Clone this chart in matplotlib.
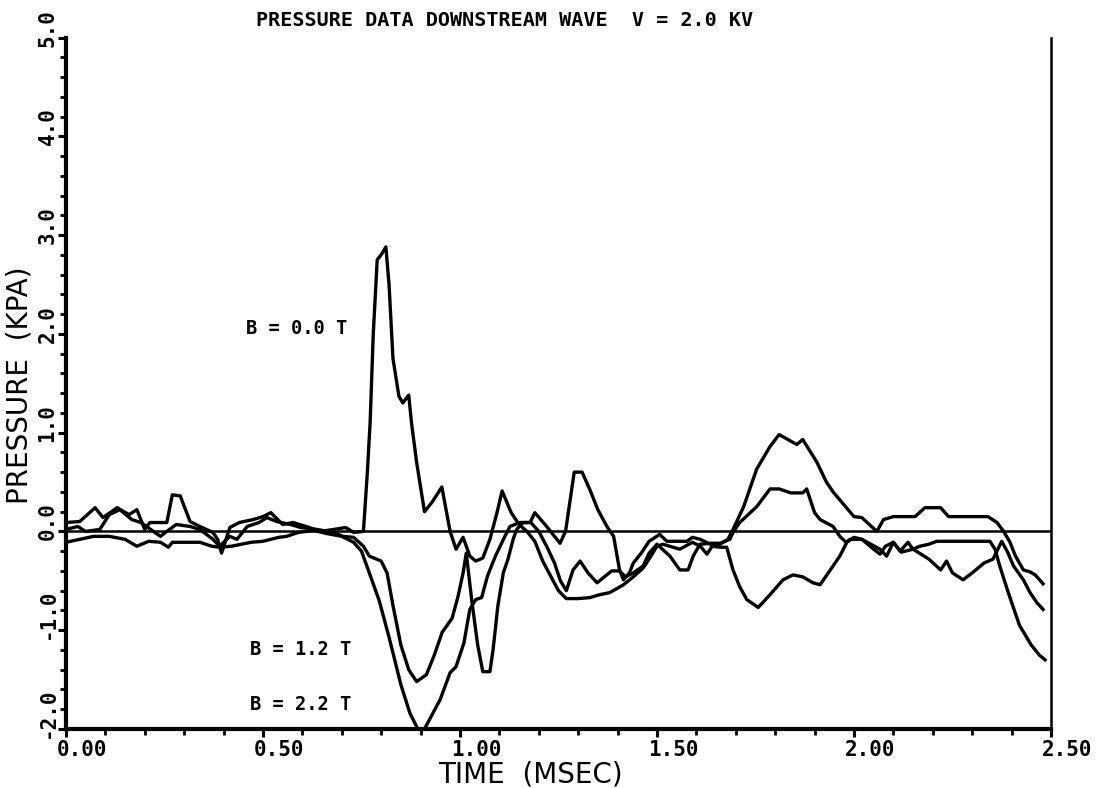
import matplotlib
matplotlib.use("Agg")
import matplotlib.pyplot as plt
from matplotlib.transforms import ScaledTranslation

# traces (time in msec, pressure in kPa)
t_b00 = [0.00, 0.035, 0.074, 0.094, 0.13, 0.16, 0.18, 0.20, 0.213, 0.256, 0.27, 0.29, 0.315, 0.34,
         0.373, 0.385, 0.395, 0.416, 0.44, 0.475, 0.50, 0.52, 0.55, 0.576, 0.61, 0.645, 0.68, 0.71,
         0.73, 0.755, 0.765, 0.772, 0.78, 0.79, 0.80, 0.812, 0.82, 0.83, 0.845, 0.855, 0.87, 0.877,
         0.89, 0.91, 0.93, 0.954, 0.975, 0.99, 1.008, 1.025, 1.04, 1.058, 1.076, 1.094, 1.107, 1.13,
         1.15, 1.17, 1.19, 1.21, 1.23, 1.25, 1.27, 1.30, 1.33, 1.355, 1.38, 1.415, 1.44, 1.465, 1.48,
         1.50, 1.515, 1.558, 1.59, 1.61, 1.627, 1.64, 1.66, 1.677, 1.693, 1.71, 1.728, 1.757, 1.787,
         1.82, 1.845, 1.87, 1.896, 1.914, 1.94, 1.964, 1.982, 2.00, 2.02, 2.05, 2.066, 2.08, 2.10,
         2.12, 2.15, 2.19, 2.22, 2.235, 2.25, 2.277, 2.30, 2.33, 2.353, 2.375, 2.39, 2.405, 2.43,
         2.447, 2.464, 2.48]
p_b00 = [0.09, 0.10, 0.24, 0.14, 0.24, 0.17, 0.22, 0.02, 0.09, 0.09, 0.37, 0.36, 0.10, 0.05,
         -0.01, -0.08, -0.22, 0.04, 0.09, 0.12, 0.15, 0.19, 0.07, 0.09, 0.05, 0.00, 0.02, 0.04,
         -0.01, 0.00, 0.60, 1.10, 2.00, 2.75, 2.80, 2.88, 2.50, 1.75, 1.37, 1.30, 1.38, 1.10,
         0.70, 0.20, 0.30, 0.45, 0.00, -0.18, -0.06, -0.25, -0.30, -0.27, -0.08, 0.19, 0.41, 0.19,
         0.07, 0.00, -0.10, -0.30, -0.45, -0.60, -0.68, -0.68, -0.67, -0.64, -0.62, -0.54, -0.46,
         -0.37, -0.28, -0.15, -0.13, -0.18, -0.11, -0.15, -0.23, -0.15, -0.16, -0.16, -0.39, -0.56,
         -0.69, -0.77, -0.64, -0.49, -0.44, -0.46, -0.52, -0.54, -0.39, -0.25, -0.11, -0.06, -0.08,
         -0.18, -0.23, -0.15, -0.11, -0.21, -0.18, -0.28, -0.39, -0.30, -0.42, -0.49, -0.42, -0.32,
         -0.28, -0.10, -0.21, -0.35, -0.49, -0.62, -0.72, -0.79]

t_b12 = [0.00, 0.03, 0.05, 0.086, 0.11, 0.137, 0.167, 0.19, 0.24, 0.256, 0.28, 0.315, 0.34, 0.373,
         0.39, 0.416, 0.434, 0.46, 0.49, 0.51, 0.535, 0.57, 0.595, 0.637, 0.68, 0.703, 0.73, 0.755,
         0.77, 0.80, 0.815, 0.83, 0.85, 0.87, 0.89, 0.915, 0.935, 0.955, 0.98, 0.995, 1.008, 1.016,
         1.03, 1.045, 1.058, 1.076, 1.084, 1.096, 1.11, 1.122, 1.135, 1.144, 1.16, 1.18, 1.20, 1.22,
         1.24, 1.255, 1.27, 1.287, 1.305, 1.325, 1.348, 1.385, 1.405, 1.42, 1.44, 1.465, 1.48, 1.50,
         1.533, 1.558, 1.579, 1.592, 1.609, 1.635, 1.66, 1.685, 1.693, 1.71, 1.753, 1.787, 1.81,
         1.84, 1.87, 1.88, 1.90, 1.914, 1.947, 1.964, 1.98, 1.99, 2.02, 2.066, 2.083, 2.10, 2.117,
         2.137, 2.15, 2.167, 2.19, 2.21, 2.345, 2.358, 2.37, 2.39, 2.42, 2.45, 2.47, 2.485]
p_b12 = [0.02, 0.05, 0.00, 0.02, 0.17, 0.22, 0.12, 0.09, -0.05, 0.00, 0.07, 0.05, 0.02, -0.08,
         -0.15, -0.05, -0.08, 0.05, 0.09, 0.14, 0.10, 0.07, 0.04, 0.02, -0.01, -0.05, -0.06, -0.15,
         -0.25, -0.30, -0.42, -0.75, -1.15, -1.40, -1.52, -1.45, -1.25, -1.02, -0.88, -0.66, -0.42,
         -0.22, -0.70, -1.15, -1.42, -1.42, -1.20, -0.76, -0.42, -0.28, -0.08, 0.02, 0.09, 0.09,
         0.00, -0.15, -0.32, -0.50, -0.60, -0.39, -0.30, -0.42, -0.52, -0.40, -0.40, -0.46, -0.42,
         -0.35, -0.22, -0.13, -0.25, -0.39, -0.39, -0.25, -0.13, -0.12, -0.12, -0.08, -0.01, 0.09,
         0.25, 0.43, 0.43, 0.39, 0.39, 0.43, 0.19, 0.12, 0.05, -0.05, -0.11, -0.08, -0.08, -0.18,
         -0.25, -0.11, -0.20, -0.11, -0.18, -0.15, -0.13, -0.10, -0.10, -0.18, -0.35, -0.60, -0.95,
         -1.15, -1.25, -1.30]

t_b22 = [0.00, 0.07, 0.11, 0.15, 0.18, 0.21, 0.24, 0.26, 0.27, 0.34, 0.37, 0.39, 0.42, 0.47, 0.50,
         0.54, 0.56, 0.59, 0.63, 0.66, 0.70, 0.73, 0.75, 0.77, 0.795, 0.82, 0.85, 0.873, 0.893, 0.91,
         0.93, 0.95, 0.975, 0.99, 1.01, 1.025, 1.04, 1.055, 1.07, 1.09, 1.114, 1.127, 1.152, 1.178,
         1.19, 1.22, 1.254, 1.268, 1.29, 1.31, 1.33, 1.35, 1.373, 1.39, 1.405, 1.415, 1.43, 1.44,
         1.46, 1.48, 1.507, 1.525, 1.576, 1.59, 1.61, 1.635, 1.66, 1.68, 1.693, 1.72, 1.753, 1.787,
         1.81, 1.855, 1.87, 1.906, 1.93, 1.947, 2.00, 2.02, 2.058, 2.075, 2.10, 2.155, 2.18, 2.22,
         2.24, 2.34, 2.363, 2.38, 2.396, 2.41, 2.43, 2.447, 2.46, 2.48]
p_b22 = [-0.11, -0.05, -0.05, -0.08, -0.15, -0.10, -0.11, -0.16, -0.11, -0.11, -0.15, -0.16, -0.15,
         -0.11, -0.10, -0.06, -0.05, -0.01, 0.01, -0.02, -0.05, -0.11, -0.20, -0.42, -0.70, -1.07,
         -1.55, -1.84, -2.00, -2.00, -1.85, -1.70, -1.43, -1.37, -1.13, -0.79, -0.69, -0.67, -0.45,
         -0.25, -0.05, 0.05, 0.09, 0.09, 0.19, 0.05, -0.12, 0.00, 0.60, 0.60, 0.42, 0.22, 0.05,
         -0.05, -0.39, -0.49, -0.42, -0.32, -0.22, -0.10, -0.03, -0.10, -0.10, -0.06, -0.08, -0.13,
         -0.13, -0.08, 0.02, 0.25, 0.63, 0.86, 0.98, 0.88, 0.93, 0.70, 0.50, 0.40, 0.15, 0.14, 0.00,
         0.12, 0.15, 0.15, 0.24, 0.24, 0.15, 0.15, 0.09, 0.00, -0.11, -0.25, -0.39, -0.41, -0.44,
         -0.53]

x_ticks = [0.0, 0.5, 1.0, 1.5, 2.0, 2.5]
x_labels = ["0.00", "0.50", "1.00", "1.50", "2.00", "2.50"]
y_ticks = [-2, -1, 0, 1, 2, 3, 4, 5]
y_labels = ["-2.0", "-1.0", "0.0", "1.0", "2.0", "3.0", "4.0", "5.0"]

fig = plt.figure(figsize=(10.99, 7.88), dpi=100)
ax = fig.add_axes([0.0600, 0.0749, 0.8963, 0.8775])

lw = 2.4
ax.plot(t_b00, p_b00, color="black", lw=lw, solid_joinstyle="round")
ax.plot(t_b12, p_b12, color="black", lw=lw, solid_joinstyle="round")
ax.plot(t_b22, p_b22, color="black", lw=lw, solid_joinstyle="round")
ax.axhline(0, color="black", lw=1.8)

ax.set_xlim(0, 2.5)
ax.set_ylim(-2, 5)

ax.spines["top"].set_visible(False)
ax.spines["left"].set_linewidth(3.0)
ax.spines["bottom"].set_linewidth(3.0)
ax.spines["right"].set_linewidth(1.8)

ax.set_xticks(x_ticks)
ax.set_xticks([i / 10 for i in range(26)], minor=True)
ax.set_yticks(y_ticks)
ax.set_yticks([-2 + i * 0.2 for i in range(36)], minor=True)
ax.tick_params(which="major", direction="out", length=6, width=2.2)
ax.tick_params(which="minor", direction="out", length=4, width=2.0)
ax.tick_params(axis="x", which="major", pad=2)
ax.tick_params(axis="y", which="major", pad=0)

tick_font = dict(family="DejaVu Sans Mono", weight="bold", size=15)
ax.set_xticklabels(x_labels, ha="left", **tick_font)
ax.set_yticklabels(y_labels, rotation=90, va="bottom", **tick_font)
x_shift = ScaledTranslation(-9 / 100, 0, fig.dpi_scale_trans)
y_shift = ScaledTranslation(0, -9 / 100, fig.dpi_scale_trans)
for lab in ax.get_xticklabels():
    lab.set_transform(lab.get_transform() + x_shift)
for lab in ax.get_yticklabels():
    lab.set_transform(lab.get_transform() + y_shift)

label_font = dict(family="DejaVu Sans Mono", weight="bold", size=13.5)
ax.text(0.586, 2.05, "B = 0.0 T", ha="center", va="center", **label_font)
ax.text(0.596, -1.2, "B = 1.2 T", ha="center", va="center", **label_font)
ax.text(0.596, -1.75, "B = 2.2 T", ha="center", va="center", **label_font)

fig.text(505 / 1099, 1 - 21 / 788, "PRESSURE DATA DOWNSTREAM WAVE  V = 2.0 KV",
         ha="center", va="center", family="DejaVu Sans Mono", weight="bold", size=14.5)
fig.text(20 / 1099, 1 - 385 / 788, "PRESSURE  (KPA)", rotation=90, ha="center", va="center",
         family="DejaVu Sans", size=20)
fig.text(530 / 1099, 1 - 775 / 788, "TIME  (MSEC)", ha="center", va="center",
         family="DejaVu Sans", size=20)

fig.savefig("out.png", dpi=100)
